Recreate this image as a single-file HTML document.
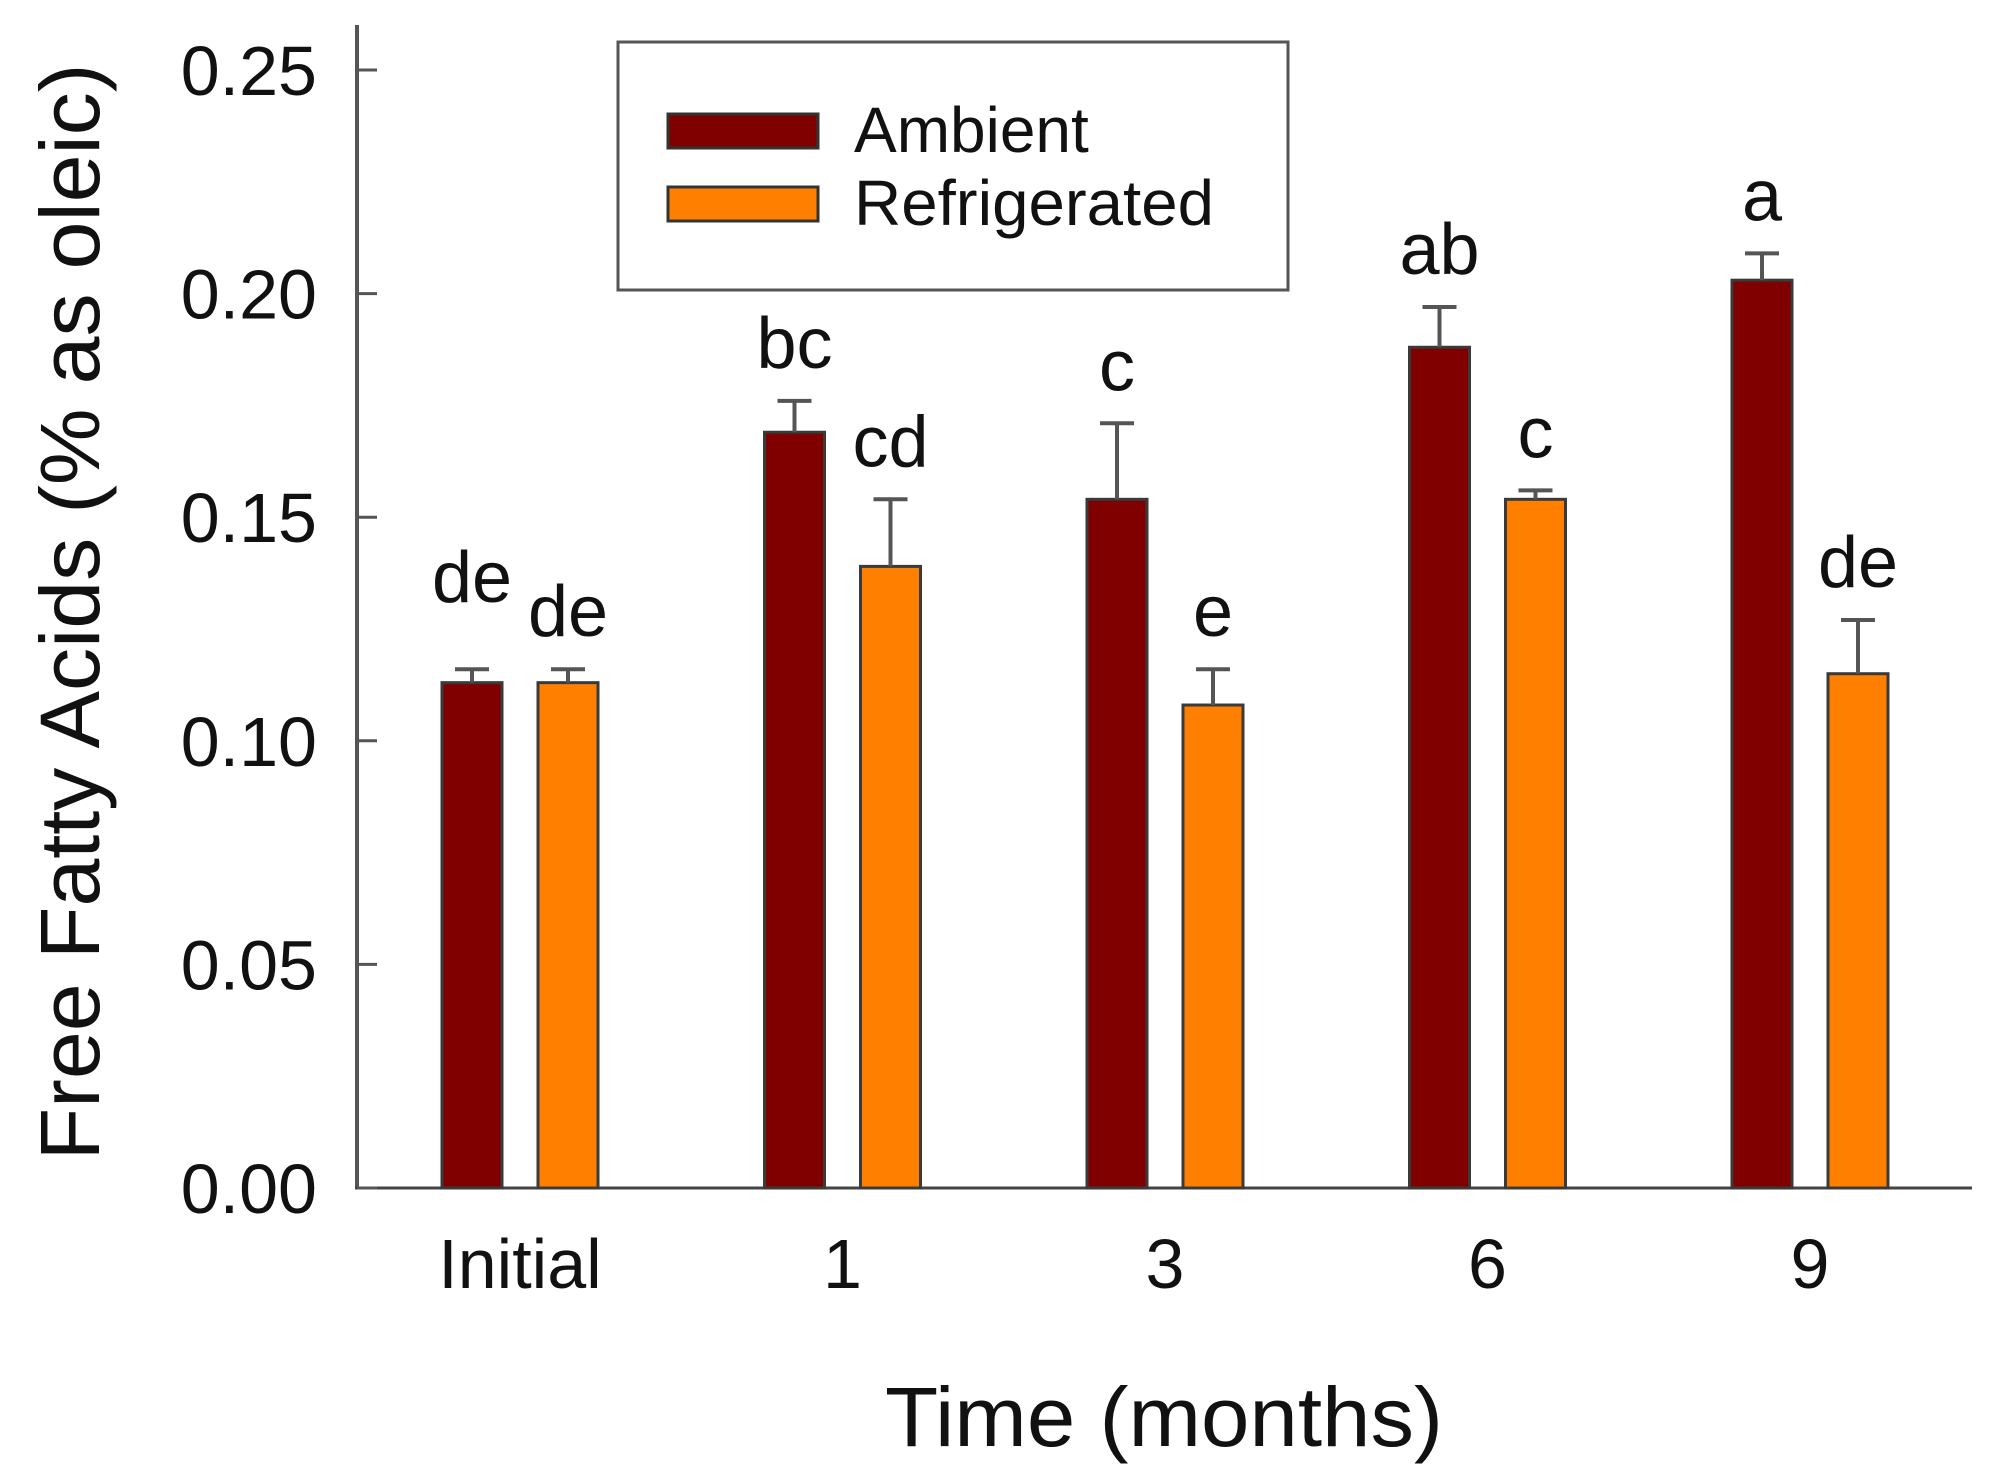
<!DOCTYPE html>
<html><head><meta charset="utf-8"><style>
html,body{margin:0;padding:0;background:#fff;}
svg{display:block;font-family:"Liberation Sans",Arial,sans-serif;}
</style></head><body>
<svg id="chart" width="1989" height="1470" viewBox="0 0 1989 1470">
<g id="axes"></g>
<g id="bars"></g>
<g id="legend">
  <rect x="618" y="42" width="670" height="248" fill="#fff" stroke="#555" stroke-width="3"/>
  <rect x="668" y="114" width="150" height="34" fill="#800000" stroke="#333" stroke-width="3"/>
  <text x="854" y="152" font-size="64" fill="#111">Ambient</text>
  <rect x="668" y="187" width="150" height="34" fill="#FF8000" stroke="#333" stroke-width="3"/>
  <text x="854" y="225" font-size="64" fill="#111" textLength="360" lengthAdjust="spacingAndGlyphs">Refrigerated</text>
</g>
<text x="1164" y="1446" font-size="84" text-anchor="middle" fill="#111" textLength="558" lengthAdjust="spacingAndGlyphs">Time (months)</text>
<text transform="translate(99,612) rotate(-90)" x="0" y="0" font-size="84" text-anchor="middle" fill="#111" textLength="1097" lengthAdjust="spacingAndGlyphs">Free Fatty Acids (% as oleic)</text>
</svg>
<script>
const categories = ["Initial", "1", "3", "6", "9"];
const ambient = [0.113, 0.169, 0.154, 0.188, 0.203];
const ambientErr = [0.003, 0.007, 0.017, 0.009, 0.006];
const refrigerated = [0.113, 0.139, 0.108, 0.154, 0.115];
const refrigeratedErr = [0.003, 0.015, 0.008, 0.002, 0.012];
const ambientLetters = ["de", "bc", "c", "ab", "a"];
const refrigeratedLetters = ["de", "cd", "e", "c", "de"];
const yTicks = [0, 0.05, 0.10, 0.15, 0.20, 0.25];
const yTickLabels = ["0.00", "0.05", "0.10", "0.15", "0.20", "0.25"];

const NS = "http://www.w3.org/2000/svg";
const X0 = 357, X1 = 1972, Y0 = 1188, PX_PER = 223.6 / 0.05;
function y(v){ return Y0 - v * PX_PER; }
function xc(i){ return 520 + i * 322.5; }
function mk(tag, attrs, parent){
  const e = document.createElementNS(NS, tag);
  for (const k in attrs) e.setAttribute(k, attrs[k]);
  parent.appendChild(e); return e;
}
const axes = document.getElementById("axes");
const bars = document.getElementById("bars");

let el = mk("line", {x1:X0, y1:25, x2:X0, y2:Y0+1, stroke:"#555", "stroke-width":4}, axes);


el = mk("line", {x1:X0-2, y1:Y0, x2:X1, y2:Y0, stroke:"#444", "stroke-width":3}, axes);



yTicks.forEach((t, i) => {
  const tk = mk("line", {x1:X0, y1:y(t), x2:X0+20, y2:y(t), stroke:"#555", "stroke-width":3}, axes);
  
  
  const lb = mk("text", {x:317, y:y(t)+25, "font-size":70, "text-anchor":"end", fill:"#111"}, axes);
  lb.textContent = yTickLabels[i];
  
  
});

categories.forEach((c, i) => {
  const lb = mk("text", {x:xc(i), y:1288, "font-size":70, "text-anchor":"middle", fill:"#111"}, axes);
  lb.textContent = c;
  
  
});

const BW = 60, OFF = 48;
function series(vals, errs, letters, color, dx, name){
  vals.forEach((v, i) => {
    const cx = xc(i) + dx;
    const r = mk("rect", {x:cx-BW/2, y:y(v), width:BW, height:Y0-y(v), fill:color, stroke:"#3a3a3a", "stroke-width":3}, bars);
    
    
    const top = y(v + errs[i]);
    const e1 = mk("line", {x1:cx, y1:y(v), x2:cx, y2:top, stroke:"#555", "stroke-width":4}, bars);
    
    
    const e2 = mk("line", {x1:cx-17, y1:top, x2:cx+17, y2:top, stroke:"#555", "stroke-width":4}, bars);
    
    
    const extra = (name === "ambient" && i === 0) ? 34 : 0;
    const t = mk("text", {x:cx, y:top-33-extra, "font-size":72, "text-anchor":"middle", fill:"#111"}, bars);
    t.textContent = letters[i];
    
    
  });
}
series(ambient, ambientErr, ambientLetters, "#800000", -OFF, "ambient");
series(refrigerated, refrigeratedErr, refrigeratedLetters, "#FF8000", OFF, "refrigerated");
</script>
</body></html>
